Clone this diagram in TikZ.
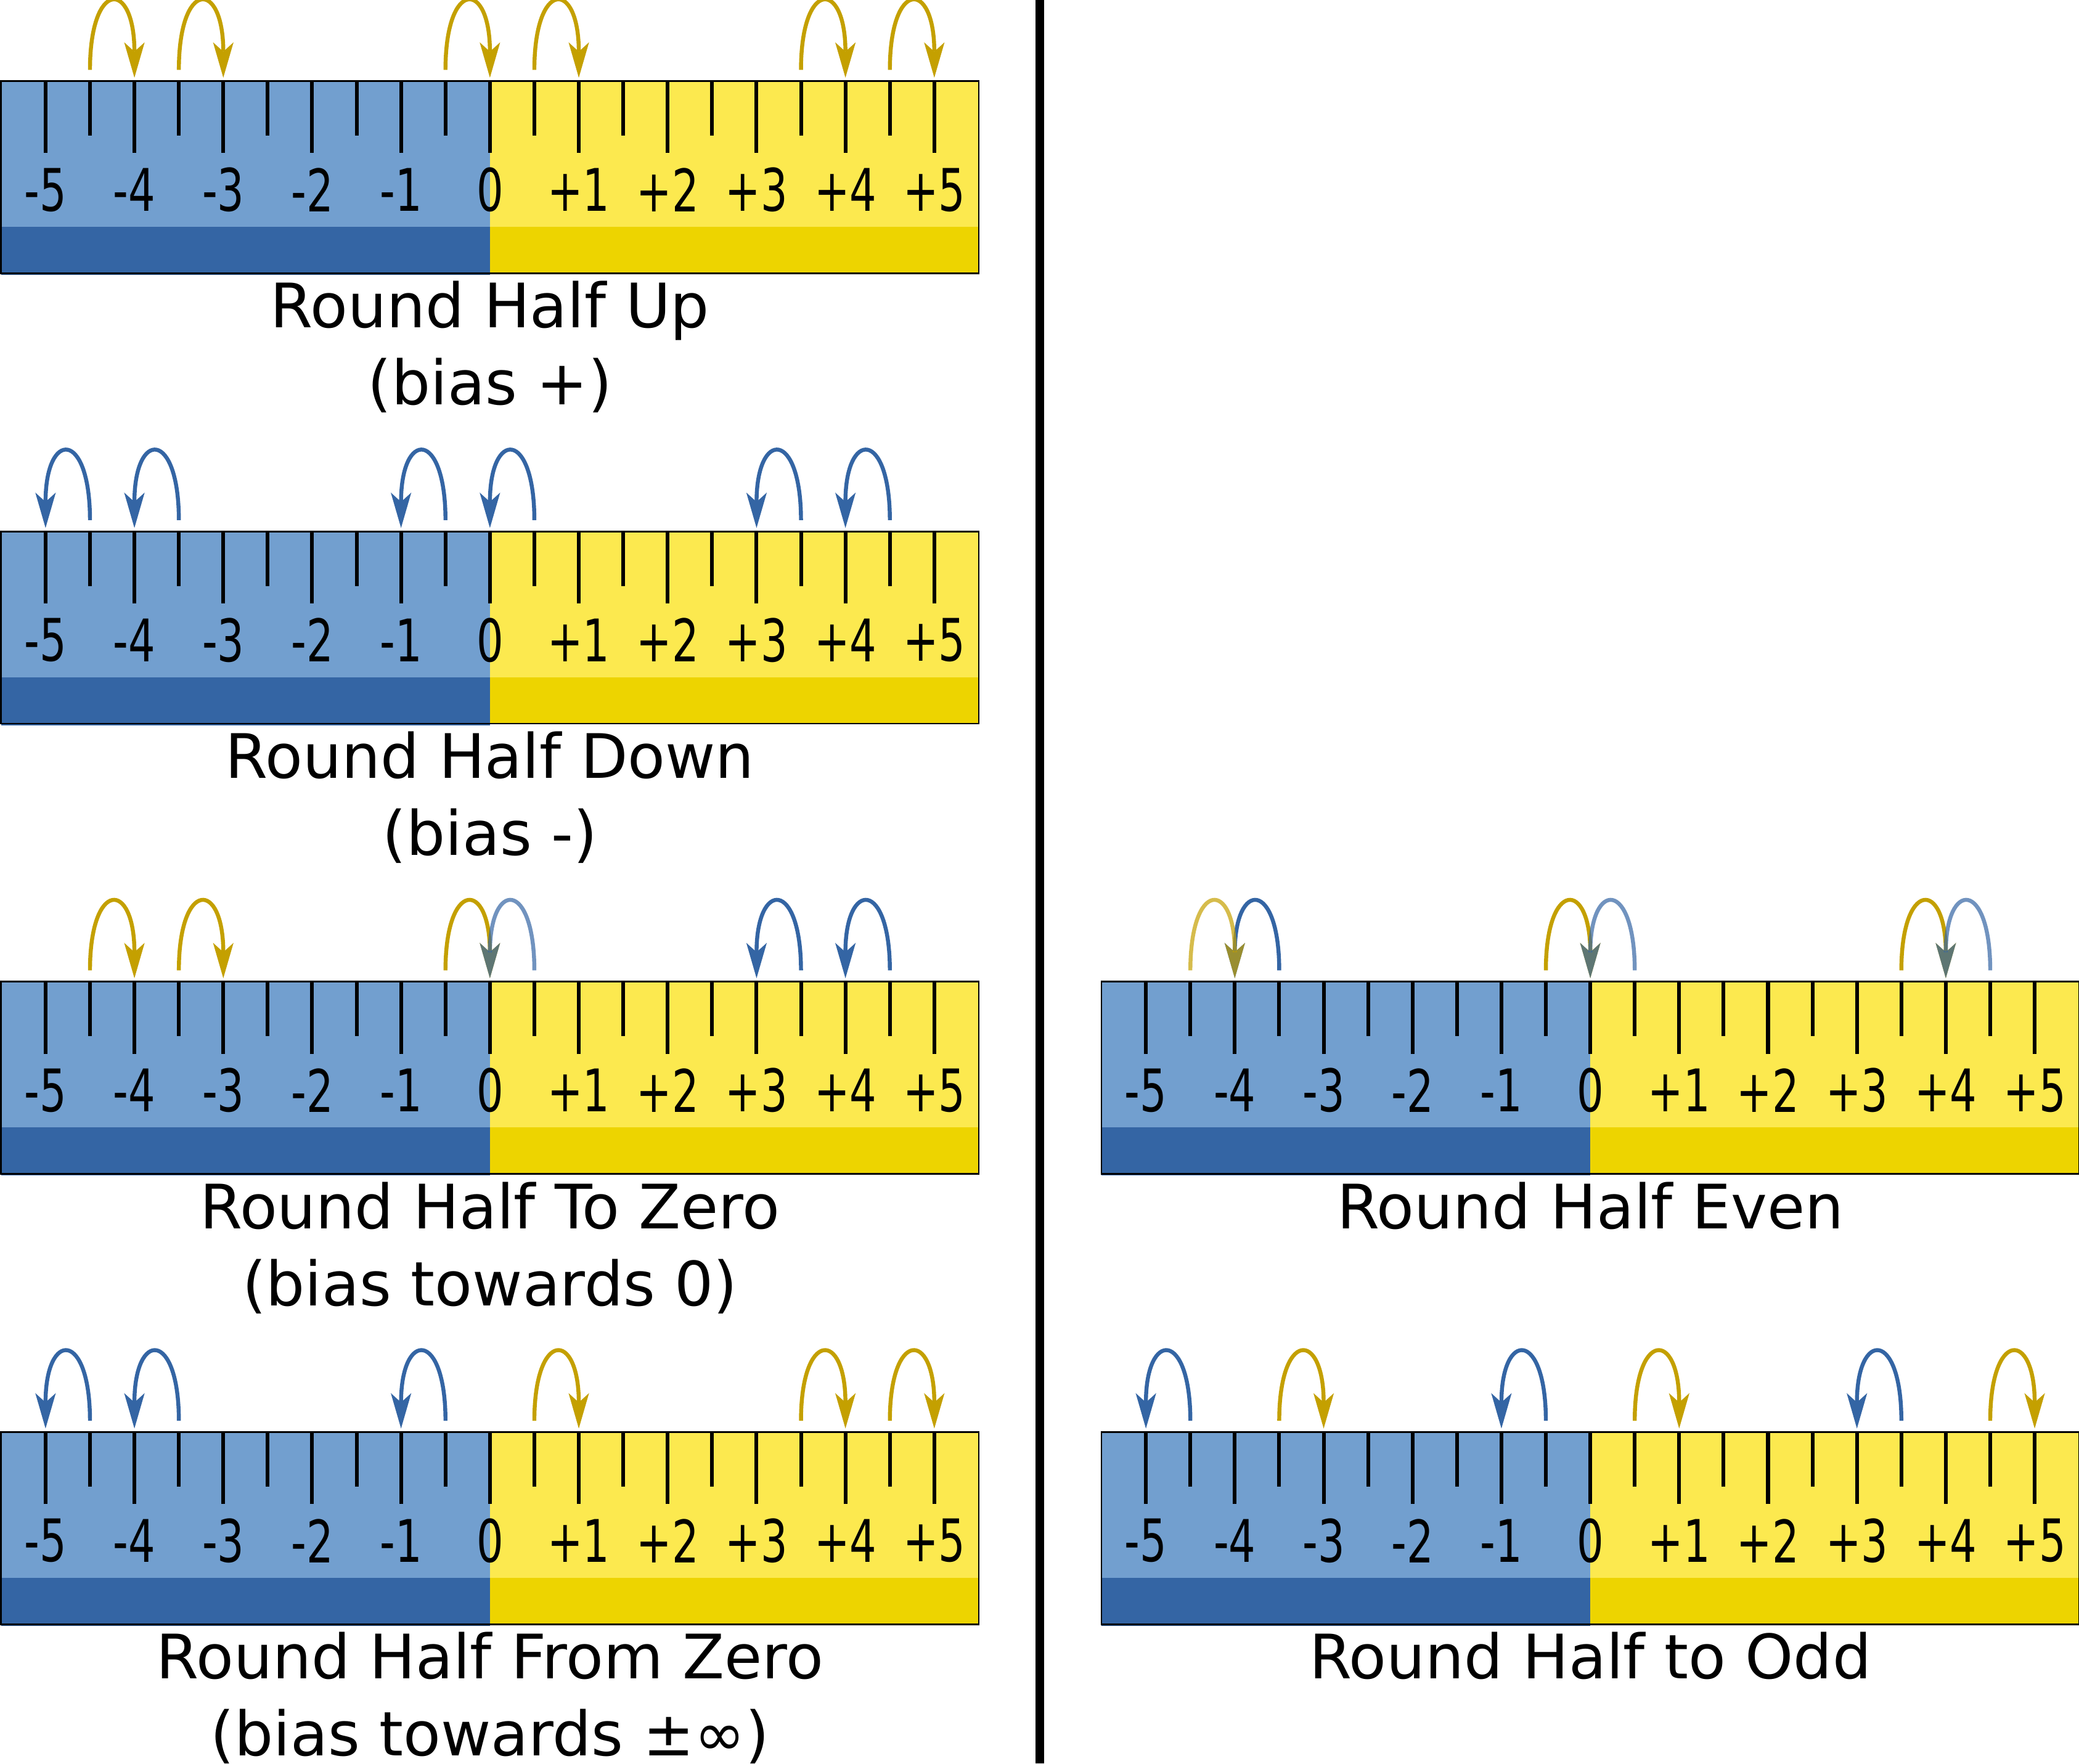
\documentclass[tikz,border=0pt]{standalone}
\usepackage{fontspec}
\setmainfont{DejaVu Sans}
\newfontfamily\numfont{DejaVu Sans}[FakeStretch=0.72]
\usetikzlibrary{arrows.meta}

\definecolor{rulerblue}{HTML}{729FCF}
\definecolor{rulerdarkblue}{HTML}{3465A4}
\definecolor{ruleryellow}{HTML}{FCE94F}
\definecolor{rulerdarkyellow}{HTML}{EDD400}
\definecolor{hopgold}{HTML}{C4A000}
\definecolor{hopblue}{HTML}{3465A4}

\tikzset{
  rulerframe/.style={draw=black, line width=0.36pt},
  ticks/.style={line width=0.8pt},
  numlabel/.style={inner sep=0pt, font=\numfont\fontsize{12.6pt}{15pt}\selectfont},
  rulertitle/.style={anchor=base, inner sep=0pt, font=\fontsize{13.15pt}{15.8pt}\selectfont},
  hoparrow/.style={line width=0.85pt,
    every edge/.append style={-{Stealth[length=7.6pt,width=4.4pt,inset=2pt,line width=0pt]}},
    to path={.. controls +(0,0.685) and +(0,0.744) .. (\tikztotarget)}},
  goldhop/.style={hoparrow, color=hopgold},
  bluehop/.style={hoparrow, color=hopblue},
  fadedhop/.style={every edge/.append style={opacity=0.7}}
}

%% #1 name, #2 x of zero, #3 y of the top edge
\newcommand{\ruler}[3]{%
  \begin{scope}[shift={(#2,#3)}, x=0.6703cm]
    \fill[rulerblue] (-5.5,0) rectangle (0,-1.10);
    \fill[rulerdarkblue] (-5.5,-1.10) rectangle (0,-1.462);
    \fill[ruleryellow] (0,0) rectangle (5.5,-1.10);
    \fill[rulerdarkyellow] (0,-1.10) rectangle (5.5,-1.45);
    \draw[rulerframe] (-5.5,0) rectangle (5.5,-1.45);
    \foreach \i in {-5,...,5}
      \draw[ticks] (\i,0) -- ++(0,-0.543);
    \foreach \i in {-4.5,-3.5,...,4.5}
      \draw[ticks] (\i,0) -- ++(0,-0.411);
    \foreach \v/\t in {-5/-5,-4/-4,-3/-3,-2/-2,-1/-1,0/0,1/+1,2/+2,3/+3,4/+4,5/+5}
      \node[numlabel] (#1-n\v) at (\v,-0.82) {\t};
    %% tails (s) and tips (e) of the hops, one per half step
    \foreach \i in {0,...,20} {
      \coordinate (#1-s\i) at (\i/2-5,0.085);
      \coordinate (#1-e\i) at (\i/2-5,0.026);
    }
    \coordinate (#1-foot) at (0,-1.45);
  \end{scope}}

\begin{document}
\begin{tikzpicture}
\useasboundingbox (0,0) rectangle (15.68,-13.30);
%%First place the rulers
\ruler{up}{3.695}{-0.612}
\ruler{down}{3.695}{-4.008}
\ruler{zero}{3.695}{-7.404}
\ruler{away}{3.695}{-10.800}
\ruler{even}{11.994}{-7.404}
\ruler{odd}{11.994}{-10.800}
%%Then the titles
\node[rulertitle] (up-title) at ([yshift=-0.411cm]up-foot) {Round Half Up};
\node[rulertitle] (up-bias) at ([yshift=-0.581cm]up-title.base) {(bias +)};
\node[rulertitle] (down-title) at ([yshift=-0.411cm]down-foot) {Round Half Down};
\node[rulertitle] (down-bias) at ([yshift=-0.581cm]down-title.base) {(bias -)};
\node[rulertitle] (zero-title) at ([yshift=-0.411cm]zero-foot) {Round Half To Zero};
\node[rulertitle] (zero-bias) at ([yshift=-0.581cm]zero-title.base) {(bias towards 0)};
\node[rulertitle] (away-title) at ([yshift=-0.411cm]away-foot) {Round Half From Zero};
\node[rulertitle] (away-bias) at ([yshift=-0.581cm]away-title.base) {(bias towards ±∞)};
\node[rulertitle] (even-title) at ([yshift=-0.411cm]even-foot) {Round Half Even};
\node[rulertitle] (odd-title) at ([yshift=-0.411cm]odd-foot) {Round Half to Odd};
%%Draw the separator
\coordinate (sep-top) at (7.84,0);
\coordinate (sep-bot) at (7.84,-13.30);
\draw[line width=1.85pt] (sep-top) -- (sep-bot);
%%Draw the gold hops
\draw[goldhop]
(up-s1) edge (up-e2)
(up-s3) edge (up-e4)
(up-s9) edge (up-e10)
(up-s11) edge (up-e12)
(up-s17) edge (up-e18)
(up-s19) edge (up-e20)
(zero-s1) edge (zero-e2)
(zero-s3) edge (zero-e4)
(zero-s9) edge (zero-e10)
(away-s11) edge (away-e12)
(away-s17) edge (away-e18)
(away-s19) edge (away-e20)
(even-s9) edge (even-e10)
(even-s17) edge (even-e18)
(odd-s3) edge (odd-e4)
(odd-s11) edge (odd-e12)
(odd-s19) edge (odd-e20);
%%Draw the blue hops
\draw[bluehop]
(down-s1) edge (down-e0)
(down-s3) edge (down-e2)
(down-s9) edge (down-e8)
(down-s11) edge (down-e10)
(down-s17) edge (down-e16)
(down-s19) edge (down-e18)
(zero-s17) edge (zero-e16)
(zero-s19) edge (zero-e18)
(away-s1) edge (away-e0)
(away-s3) edge (away-e2)
(away-s9) edge (away-e8)
(even-s3) edge (even-e2)
(odd-s1) edge (odd-e0)
(odd-s9) edge (odd-e8)
(odd-s17) edge (odd-e16);
%%Draw the faded hops on top
\draw[bluehop,fadedhop]
(zero-s11) edge (zero-e10)
(even-s11) edge (even-e10)
(even-s19) edge (even-e18);
\draw[goldhop,fadedhop]
(even-s1) edge (even-e2);
\end{tikzpicture}
\end{document}
